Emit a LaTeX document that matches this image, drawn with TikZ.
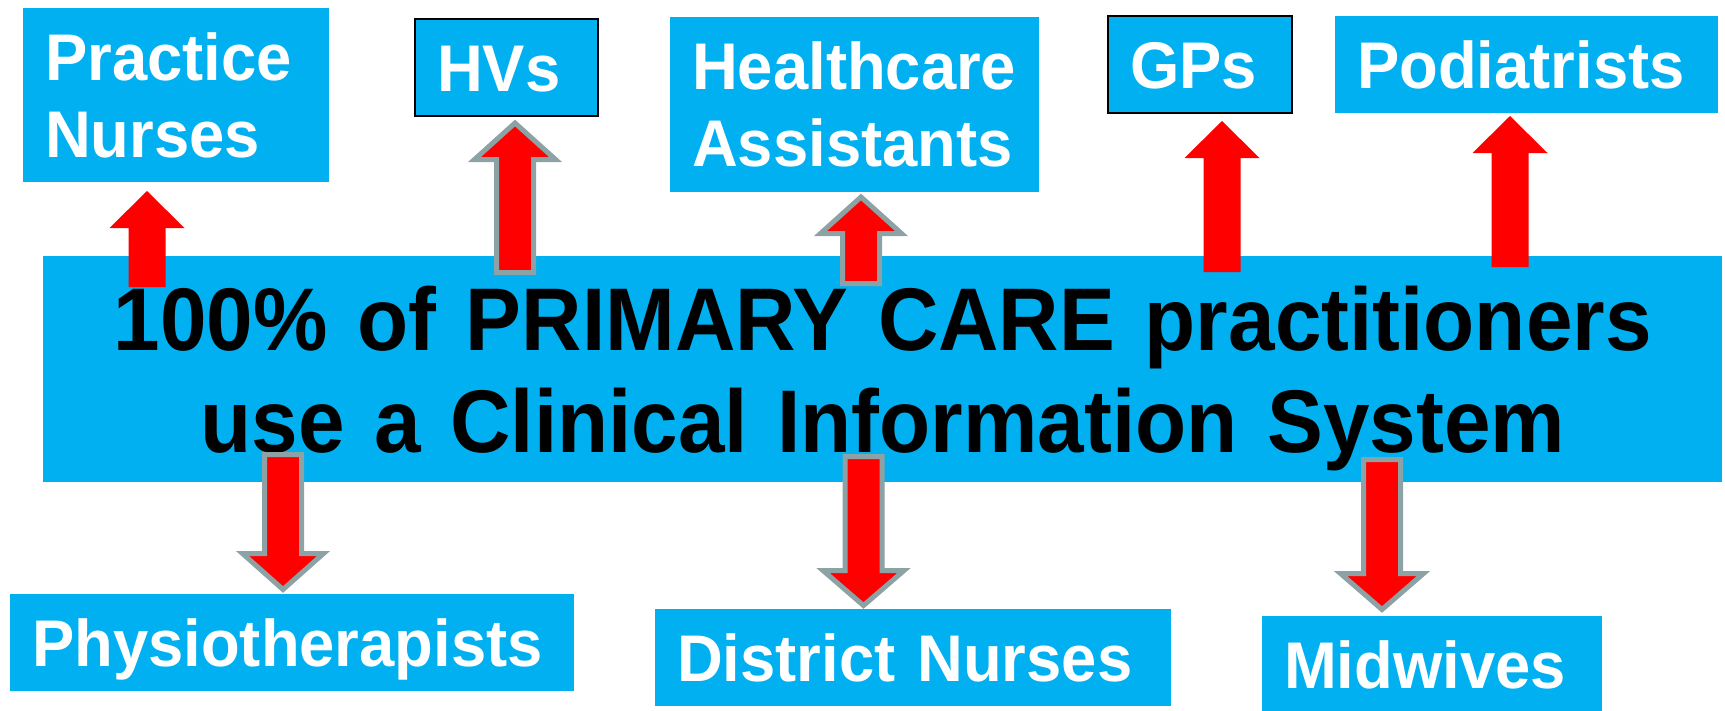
\documentclass[tikz,border=0pt]{standalone}
\usepackage{fontspec}
\setmainfont[FakeStretch=0.96]{Liberation Sans}
\newfontfamily\sysfont[FakeStretch=0.94]{Liberation Sans}
\definecolor{boxBlue}{RGB}{0,176,240}
\definecolor{arrGrey}{RGB}{140,162,165}
\hyphenpenalty=10000
\tikzset{
	lbl/.style={anchor=north west, fill=boxBlue, text=white, align=left,
		font=\fontsize{66}{77}\selectfont\bfseries,
		inner xsep=22pt, inner ysep=0pt, text height=72pt, text depth=25pt},
	redarr/.style={fill=red},
	greyarr/.style={fill=red, draw=arrGrey, line width=5pt, line join=miter}
}
% block arrow: [style]{x}{tip}{head base}{tail}{head half width}
\newcommand{\blkarrow}[6][]{%
	\path[#1] (#2-18.5,#5) -- (#2-18.5,#4) -- (#2-#6,#4) -- (#2,#3)
		-- (#2+#6,#4) -- (#2+18.5,#4) -- (#2+18.5,#5) -- cycle;}

\begin{document}
\begin{tikzpicture}[x=1pt, y=-1pt]
		\useasboundingbox (0,0) rectangle (1725,710);
		%%%%%%%%%%%%%
		\node (sys) [anchor=north west, fill=boxBlue, align=center, inner sep=0pt,
			text width=1679pt, text height=94pt, text depth=132pt,
			font=\sysfont\fontsize{89}{102}\selectfont\bfseries] at (43,256)
			{100\% of PRIMARY CARE practitioners\\use a Clinical Information System};
		%%%%%%%%%%%%%
		\node (pn) [lbl, text width=262pt, text depth=102pt] at (23,8) {Practice\\Nurses};
		\node (hv) [lbl, text width=139pt, draw=black, line width=2pt] at (414,18) {HVs};
		\node (hca) [lbl, text width=325pt, text depth=103pt] at (670,17) {Healthcare\\Assistants};
		\node (gp) [lbl, text width=140pt, draw=black, line width=2pt] at (1107,15) {GPs};
		\node (pod) [lbl, text width=339pt] at (1335,16) {Podiatrists};
		\node (phy) [lbl, text width=520pt] at (10,594) {Physiotherapists};
		\node (dn) [lbl, text width=472pt] at (655,609) {District Nurses};
		\node (mw) [lbl, text width=296pt] at (1262,616) {Midwives};
		%%%%%%%%%%%%%
		\blkarrow[redarr]{147}{191}{228}{287}{37.5}
		\blkarrow[greyarr]{515}{123}{159.5}{272.5}{40.5}
		\blkarrow[greyarr]{861}{197}{233.5}{283.5}{40.5}
		\blkarrow[redarr]{1222}{121}{158}{272}{37.5}
		\blkarrow[redarr]{1510}{116}{153}{267}{37.5}
		\blkarrow[greyarr]{283}{589.5}{553.5}{454.5}{40.5}
		\blkarrow[greyarr]{863.5}{605.5}{570.5}{456.5}{40.5}
		\blkarrow[greyarr]{1382}{609.5}{573.5}{459.5}{41.5}
\end{tikzpicture}
\end{document}
